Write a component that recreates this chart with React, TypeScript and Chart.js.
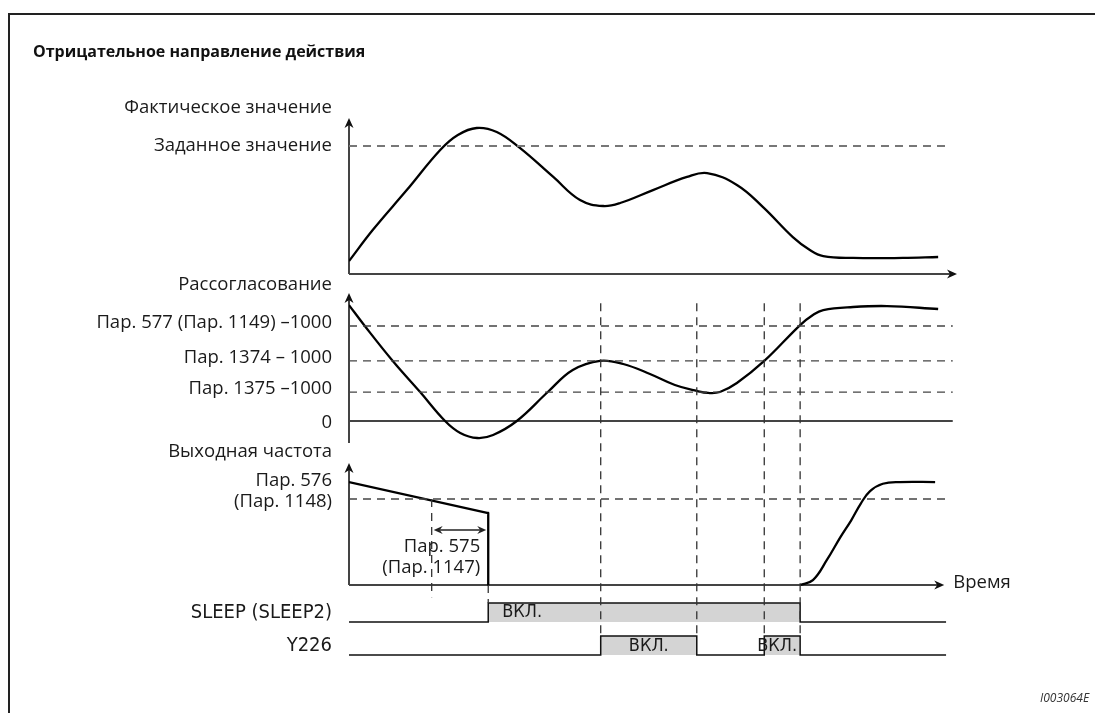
import { useEffect, useRef } from "react";
import { Chart, registerables } from "chart.js";

Chart.register(...registerables);

// ---------- data ----------
const TITLE = "Отрицательное направление действия";
const FIG_ID = "I003064E";

// time events (arbitrary time units 0..100)
const EVENTS = [13.6, 22.9, 41.4, 57.2, 68.3, 74.2];

// actual value (process value), % of axis
const PV_T = [0, 3.9, 9.5, 15, 17.9, 21, 24.3, 28.1, 33.6, 38, 41.8, 44.6, 50, 55.6, 58.9, 63.8, 68.1, 73, 75.8, 78, 82.9, 91.1, 96.9];
const PV_V = [8.3, 28.2, 53.8, 79.5, 89.1, 93.6, 91, 80.8, 62.2, 47.4, 43.6, 45.5, 53.8, 62.2, 64.7, 57.1, 42.9, 23.7, 15.4, 11.5, 10.3, 10.3, 10.9];
const SETPOINT = 82;

// deviation
const DEV_T = [0, 2.6, 7.2, 11.7, 15.8, 18.3, 21.1, 23.7, 27.6, 32.7, 36.8, 41.3, 45.1, 49.5, 53.6, 57.2, 59.1, 61, 63.8, 68.3, 74.2, 76.3, 78, 82.9, 88.5, 96.9];
const DEV_V = [122, 100, 63.2, 30.5, 0, -12.6, -17.9, -14.7, 0, 30.5, 53.7, 63.4, 60, 49.5, 37.9, 31.6, 29.5, 30.5, 40, 63.2, 101, 111.6, 116.8, 120, 121, 117.9];
const DEV_LEVELS = [100, 63.2, 30.5, 0];
const DEV_LABELS = ["Пар. 577 (Пар. 1149) –1000", "Пар. 1374 – 1000", "Пар. 1375 –1000", "0"];

// output frequency
const FREQ_T = [0, 22.9, 22.9];
const FREQ_V = [84.4, 59, 0];
const FREQ_RISE_T = [74.2, 76.3, 78.6, 80.8, 82.6, 84.2, 85.7, 87.8, 90.6, 96.4];
const FREQ_RISE_V = [0, 4, 20.5, 39, 53, 67, 77, 83, 84.4, 84.4];
const PAR576 = 70.5;

// signals
const SLEEP_T = [0, 22.9, 22.9, 74.2, 74.2, 98.2];
const SLEEP_V = [0, 0, 1, 1, 0, 0];
const Y226_T = [0, 41.4, 41.4, 57.2, 57.2, 68.3, 68.3, 74.2, 74.2, 98.2];
const Y226_V = [0, 0, 1, 1, 0, 0, 1, 1, 0, 0];

// ---------- layout ----------
const W = 1095;
const H = 713;
const AREA = { left: 349, right: 957, top: 60, bottom: 680 };
// [pixel of value 0, pixels per unit]
const PANELS: Record<string, [number, number]> = {
  yPV: [274, 1.56],
  yDev: [421, 0.95],
  yFreq: [585, 1.22],
  ySleep: [622, 19],
  yY226: [655, 19],
};
const yRange = (id: string) => {
  const [z, k] = PANELS[id];
  return { min: -(AREA.bottom - z) / k, max: (z - AREA.top) / k };
};

const LABEL_FONT = '18.5px "Open Sans", "Noto Sans", sans-serif';
const NARROW_FONT = '20px "Liberation Sans Narrow", "DejaVu Sans Condensed", sans-serif';
const ON_FONT = '18px "Liberation Sans Narrow", "DejaVu Sans Condensed", sans-serif';
const TITLE_FONT = 'bold 16px "Open Sans", "Noto Sans", sans-serif';

const pts = (t: number[], v: number[]) => t.map((x, i) => ({ x, y: v[i] }));

function line(ctx: CanvasRenderingContext2D, x1: number, y1: number, x2: number, y2: number) {
  ctx.beginPath();
  ctx.moveTo(x1, y1);
  ctx.lineTo(x2, y2);
  ctx.stroke();
}
function arrowHead(ctx: CanvasRenderingContext2D, x: number, y: number, dir: "up" | "right" | "left", len = 10, half = 4.5) {
  ctx.beginPath();
  if (dir === "up") {
    ctx.moveTo(x, y);
    ctx.lineTo(x - half, y + len);
    ctx.lineTo(x, y + len - 3);
    ctx.lineTo(x + half, y + len);
  } else if (dir === "right") {
    ctx.moveTo(x, y);
    ctx.lineTo(x - len, y - half);
    ctx.lineTo(x - len + 3, y);
    ctx.lineTo(x - len, y + half);
  } else {
    ctx.moveTo(x, y);
    ctx.lineTo(x + len, y - half);
    ctx.lineTo(x + len - 3, y);
    ctx.lineTo(x + len, y + half);
  }
  ctx.closePath();
  ctx.fill();
}
function text(ctx: CanvasRenderingContext2D, s: string, x: number, y: number, font: string, align: CanvasTextAlign, color = "#1a1a1a") {
  ctx.font = font;
  ctx.textAlign = align;
  ctx.textBaseline = "middle";
  ctx.fillStyle = color;
  ctx.fillText(s, x, y);
}

const diagramPlugin = {
  id: "diagram",
  beforeDatasetsDraw(chart: any) {
    const ctx: CanvasRenderingContext2D = chart.ctx;
    const xs = chart.scales.x;
    const { yPV, yDev, yFreq } = chart.scales;
    const x0 = xs.getPixelForValue(0);
    ctx.save();
    // frame
    ctx.strokeStyle = "#222";
    ctx.lineWidth = 2;
    ctx.strokeRect(9, 14, W + 20, H + 20);

    ctx.strokeStyle = "#444";
    ctx.fillStyle = "#111";
    ctx.lineWidth = 2;
    // PV axes
    line(ctx, x0, yPV.getPixelForValue(0), x0, yPV.getPixelForValue(100) + 4);
    arrowHead(ctx, x0, yPV.getPixelForValue(100), "up");
    line(ctx, x0, yPV.getPixelForValue(0), xs.getPixelForValue(100) - 4, yPV.getPixelForValue(0));
    arrowHead(ctx, xs.getPixelForValue(100), yPV.getPixelForValue(0), "right");
    // Dev axes
    line(ctx, x0, yDev.getPixelForValue(-23.2), x0, yDev.getPixelForValue(134.7) + 4);
    arrowHead(ctx, x0, yDev.getPixelForValue(134.7), "up");
    line(ctx, x0, yDev.getPixelForValue(0), xs.getPixelForValue(99.3), yDev.getPixelForValue(0));
    // Freq axes
    line(ctx, x0, yFreq.getPixelForValue(0), x0, yFreq.getPixelForValue(100) + 4);
    arrowHead(ctx, x0, yFreq.getPixelForValue(100), "up");
    line(ctx, x0, yFreq.getPixelForValue(0), xs.getPixelForValue(97.9) - 4, yFreq.getPixelForValue(0));
    arrowHead(ctx, xs.getPixelForValue(97.9), yFreq.getPixelForValue(0), "right");
    ctx.restore();
  },
  afterDatasetsDraw(chart: any) {
    const ctx: CanvasRenderingContext2D = chart.ctx;
    const xs = chart.scales.x;
    const { yPV, yDev, yFreq, ySleep, yY226 } = chart.scales;
    const x0 = xs.getPixelForValue(0);
    const lx = x0 - 17;
    ctx.save();

    // vertical dashed event lines
    ctx.strokeStyle = "#333";
    ctx.lineWidth = 1.3;
    ctx.setLineDash([8, 6]);
    line(ctx, xs.getPixelForValue(EVENTS[0]), yFreq.getPixelForValue(PAR576), xs.getPixelForValue(EVENTS[0]), yFreq.getPixelForValue(-10));
    line(ctx, xs.getPixelForValue(EVENTS[1]), yFreq.getPixelForValue(0), xs.getPixelForValue(EVENTS[1]), ySleep.getPixelForValue(1));
    for (let i = 2; i < EVENTS.length; i++) {
      const px = xs.getPixelForValue(EVENTS[i]);
      line(ctx, px, yDev.getPixelForValue(124), px, yY226.getPixelForValue(1));
    }
    ctx.setLineDash([]);

    // double arrow Par 575
    ctx.strokeStyle = "#222";
    ctx.fillStyle = "#222";
    ctx.lineWidth = 1.5;
    const ay = yFreq.getPixelForValue(45);
    const ax1 = xs.getPixelForValue(EVENTS[0]) + 2;
    const ax2 = xs.getPixelForValue(EVENTS[1]) - 2;
    line(ctx, ax1 + 6, ay, ax2 - 6, ay);
    arrowHead(ctx, ax1, ay, "left", 9, 4);
    arrowHead(ctx, ax2, ay, "right", 9, 4);

    // texts
    text(ctx, TITLE, 33, 52, TITLE_FONT, "left", "#111");
    text(ctx, "Фактическое значение", lx, yPV.getPixelForValue(100) - 10, LABEL_FONT, "right");
    text(ctx, "Заданное значение", lx, yPV.getPixelForValue(SETPOINT), LABEL_FONT, "right");
    text(ctx, "Рассогласование", lx, yDev.getPixelForValue(134.7) - 8, LABEL_FONT, "right");
    DEV_LABELS.forEach((s, i) => {
      const off = DEV_LEVELS[i] === 0 ? 2 : -3;
      text(ctx, s, lx, yDev.getPixelForValue(DEV_LEVELS[i]) + off, LABEL_FONT, "right");
    });
    text(ctx, "Выходная частота", lx, yFreq.getPixelForValue(100) - 11, LABEL_FONT, "right");
    text(ctx, "Пар. 576", lx, yFreq.getPixelForValue(PAR576) - 18, LABEL_FONT, "right");
    text(ctx, "(Пар. 1148)", lx, yFreq.getPixelForValue(PAR576) + 3, LABEL_FONT, "right");
    const tx = xs.getPixelForValue(EVENTS[1]) - 8;
    text(ctx, "Пар. 575", tx, yFreq.getPixelForValue(0) - 38, LABEL_FONT, "right");
    text(ctx, "(Пар. 1147)", tx, yFreq.getPixelForValue(0) - 17, LABEL_FONT, "right");
    text(ctx, "Время", xs.getPixelForValue(97.9) + 9, yFreq.getPixelForValue(0) - 2, LABEL_FONT, "left");

    text(ctx, "SLEEP (SLEEP2)", lx, ySleep.getPixelForValue(0.5), NARROW_FONT, "right");
    text(ctx, "Y226", lx, yY226.getPixelForValue(0.5), NARROW_FONT, "right");
    text(ctx, "ВКЛ.", xs.getPixelForValue(EVENTS[1]) + 14, ySleep.getPixelForValue(0.5), ON_FONT, "left");
    text(ctx, "ВКЛ.", (xs.getPixelForValue(EVENTS[2]) + xs.getPixelForValue(EVENTS[3])) / 2, yY226.getPixelForValue(0.45), ON_FONT, "center");
    text(ctx, "ВКЛ.", (xs.getPixelForValue(EVENTS[4]) + xs.getPixelForValue(EVENTS[5])) / 2 - 5, yY226.getPixelForValue(0.45), ON_FONT, "center");

    text(ctx, FIG_ID, 1040, 699, 'italic 12px "Open Sans", sans-serif', "left", "#333");
    ctx.restore();
  },
};

export default function App() {
  const ref = useRef<HTMLCanvasElement>(null);
  useEffect(() => {
    if (!ref.current) return;
    const base = { pointRadius: 0, pointHoverRadius: 0, fill: false };
    const hline = (scale: string, v: number, tEnd: number, color: string, width: number, dash: number[]) => ({
      ...base,
      data: pts([0, tEnd], [v, v]),
      yAxisID: scale,
      borderColor: color,
      borderWidth: width,
      borderDash: dash,
      tension: 0,
    });
    const curve = (t: number[], v: number[], scale: string, tension: number) => ({
      ...base,
      data: pts(t, v),
      yAxisID: scale,
      borderColor: "#000",
      borderWidth: 2.3,
      tension,
      borderJoinStyle: "round",
    });
    const datasets: any[] = [
      hline("yPV", SETPOINT, 98.85, "#777", 2, [8, 6]),
      ...DEV_LEVELS.filter((v) => v !== 0).map((v) => hline("yDev", v, 99.3, "#444", 1.3, [8, 6])),
      hline("yFreq", PAR576, 98.85, "#444", 1.3, [8, 6]),
      {
        ...base,
        data: pts(SLEEP_T, SLEEP_V),
        yAxisID: "ySleep",
        borderColor: "#111",
        borderWidth: 1.5,
        backgroundColor: "#d4d4d4",
        fill: { value: 0 },
        tension: 0,
      },
      {
        ...base,
        data: pts(Y226_T, Y226_V),
        yAxisID: "yY226",
        borderColor: "#111",
        borderWidth: 1.5,
        backgroundColor: "#d4d4d4",
        fill: { value: 0 },
        tension: 0,
      },
      curve(PV_T, PV_V, "yPV", 0.4),
      curve(DEV_T, DEV_V, "yDev", 0.4),
      curve(FREQ_T, FREQ_V, "yFreq", 0),
      curve(FREQ_RISE_T, FREQ_RISE_V, "yFreq", 0.4),
    ];
    const scales: any = {
      x: { type: "linear", display: false, min: 0, max: 100 },
    };
    Object.keys(PANELS).forEach((id) => {
      scales[id] = { type: "linear", display: false, ...yRange(id) };
    });
    const chart = new Chart(ref.current, {
      type: "line",
      data: { datasets },
      options: {
        responsive: false,
        animation: false,
        devicePixelRatio: 1,
        layout: {
          padding: { left: AREA.left, right: W - AREA.right, top: AREA.top, bottom: H - AREA.bottom },
        },
        plugins: { legend: { display: false }, tooltip: { enabled: false } },
        events: [],
        scales,
      },
      plugins: [diagramPlugin],
    });
    return () => chart.destroy();
  }, []);
  return (
    <div style={{ position: "fixed", left: 0, top: 0, width: W, height: H, background: "#fff" }}>
      <canvas ref={ref} width={W} height={H} style={{ width: W, height: H, display: "block" }} />
    </div>
  );
}
